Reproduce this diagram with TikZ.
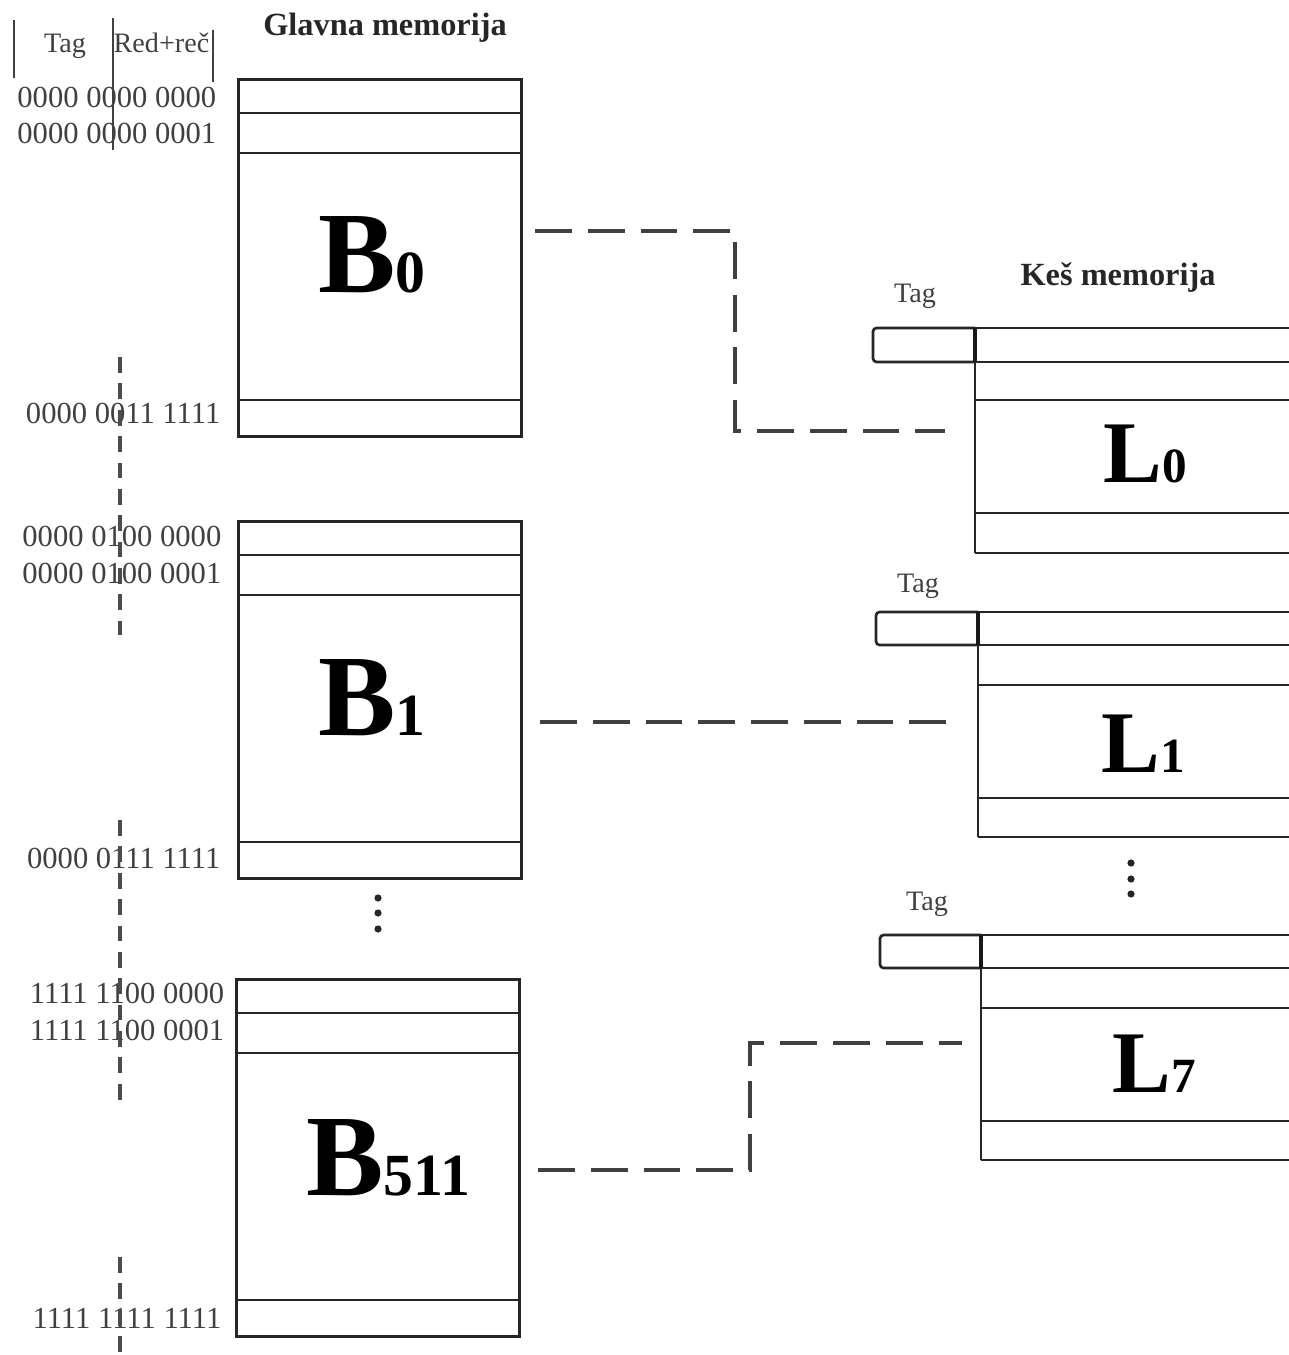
\documentclass[tikz,border=0pt]{standalone}
\usepackage{fontspec}
\setmainfont{Liberation Serif}
\begin{document}
\begin{tikzpicture}[x=0.01cm,y=-0.01cm,
  boxline/.style={draw=black!85, line width=0.75pt},
  divline/.style={draw=black!90, line width=1.1pt},
  conn/.style={draw=black!75, line width=0.9pt, dash pattern=on 10.5pt off 4.5pt},
  axisline/.style={draw=black!70, line width=0.9pt, dash pattern=on 4.5pt off 3pt},
  barline/.style={draw=black!75, line width=0.8pt},
  addr/.style={font=\fontsize{8.7}{8.7}\selectfont, text=black!75, anchor=base east, inner sep=0pt},
  titlefont/.style={font=\fontsize{9.2}{9.2}\selectfont\bfseries, text=black!85, inner sep=0pt},
  taglbl/.style={font=\fontsize{8}{8}\selectfont, text=black!75, inner sep=0pt},
  bigB/.style={anchor=base, inner sep=0pt, font=\fontsize{33}{33}\selectfont\bfseries},
  bigL/.style={anchor=base, inner sep=0pt, font=\fontsize{25}{25}\selectfont\bfseries},
  memblock/.style={boxline, anchor=north west, minimum width=2.83cm, minimum height=3.57cm, inner sep=0pt},
  tagbox/.style={boxline, rounded corners=1pt},
  dotmark/.style={fill=black!85}
]
\useasboundingbox (0,0) rectangle (1289,1355);

% ---------- header ----------
\node[titlefont, anchor=base] (glavna) at (385,36) {Glavna memorija};
\node[taglbl, anchor=base] (hTag) at (65,53) {Tag};
\node[taglbl, anchor=base west] (hRed) at (113,53) {Red+reč};
\draw[barline] (14,20) -- (14,78);
\draw[barline] (113,18) -- (113,150);
\draw[barline] (213,30) -- (213,82);

% ---------- main memory blocks ----------
\node[memblock] (B0) at (237,78) {};
\node[memblock] (B1) at (237,520) {};
\node[memblock] (B511) at (235,978) {};
\foreach \b in {B0,B1,B511}{
  \draw[boxline] (\b.north west) ++(0,35) -- ++(283,0);
  \draw[boxline] (\b.north west) ++(0,75) -- ++(283,0);
  \draw[boxline] (\b.north west) ++(0,322) -- ++(283,0);
}
\node[bigB] (B0t) at (372,293) {B{\fontsize{17}{17}\selectfont 0}};
\node[bigB] (B1t) at (372,735) {B{\fontsize{17}{17}\selectfont 1}};
\node[bigB] (B511t) at (388,1195) {B{\fontsize{17}{17}\selectfont 511}};

% ---------- addresses ----------
\node[addr] (a1) at (217,108) {0000 0000 0000};
\node[addr] (a2) at (217,144) {0000 0000 0001};
\node[addr] (a3) at (221,423) {0000 0011 1111};
\node[addr] (a4) at (222,546) {0000 0100 0000};
\node[addr] (a5) at (222,583) {0000 0100 0001};
\node[addr] (a6) at (221,868) {0000 0111 1111};
\node[addr] (a7) at (225,1003) {1111 1100 0000};
\node[addr] (a8) at (225,1040) {1111 1100 0001};
\node[addr] (a9) at (222,1328) {1111 1111 1111};

% ---------- vertical dashed split line ----------
\draw[axisline] (120,357) -- (120,635);
\draw[axisline] (120,820) -- (120,1100);
\draw[axisline] (120,1257) -- (120,1355);

% ---------- vertical dots ----------
\fill[dotmark] (378,898) circle (3.6);
\fill[dotmark] (378,913) circle (3.6);
\fill[dotmark] (378,929) circle (3.6);
\fill[dotmark] (1131,863) circle (3.6);
\fill[dotmark] (1131,879) circle (3.6);
\fill[dotmark] (1131,894) circle (3.6);

% ---------- cache ----------
\node[titlefont, anchor=base] (kes) at (1118,286) {Keš memorija};

% L0
\node[taglbl, anchor=base] (t0) at (915,303) {Tag};
\draw[tagbox] (975,328) -- (873,328) -- (873,362) -- (975,362);
\draw[boxline] (975,328) -- (1289,328);
\draw[boxline] (975,362) -- (1289,362);
\draw[boxline] (975,400) -- (1289,400);
\draw[boxline] (975,513) -- (1289,513);
\draw[boxline] (975,553) -- (1289,553);
\draw[boxline] (975,328) -- (975,553);
\draw[divline] (975,328) -- (975,362);
\node[bigL] (L0t) at (1145,482) {L{\fontsize{14}{14}\selectfont 0}};

% L1
\node[taglbl, anchor=base] (t1) at (918,592) {Tag};
\draw[tagbox] (978,612) -- (876,612) -- (876,645) -- (978,645);
\draw[boxline] (978,612) -- (1289,612);
\draw[boxline] (978,645) -- (1289,645);
\draw[boxline] (978,685) -- (1289,685);
\draw[boxline] (978,798) -- (1289,798);
\draw[boxline] (978,837) -- (1289,837);
\draw[boxline] (978,612) -- (978,837);
\draw[divline] (978,612) -- (978,645);
\node[bigL] (L1t) at (1143,772) {L{\fontsize{14}{14}\selectfont 1}};

% L7
\node[taglbl, anchor=base] (t7) at (927,910) {Tag};
\draw[tagbox] (981,935) -- (880,935) -- (880,968) -- (981,968);
\draw[boxline] (981,935) -- (1289,935);
\draw[boxline] (981,968) -- (1289,968);
\draw[boxline] (981,1008) -- (1289,1008);
\draw[boxline] (981,1121) -- (1289,1121);
\draw[boxline] (981,1160) -- (1289,1160);
\draw[boxline] (981,935) -- (981,1160);
\draw[divline] (981,935) -- (981,968);
\node[bigL] (L7t) at (1154,1092) {L{\fontsize{14}{14}\selectfont 7}};

% ---------- connectors ----------
\coordinate (B0out) at (535,231);
\coordinate (turn0) at (735,431);
\coordinate (L0in) at (945,431);
\draw[conn] (B0out) -- (B0out -| turn0) -- (turn0) -- (L0in);

\coordinate (B1out) at (540,722);
\coordinate (L1in) at (952,722);
\draw[conn] (B1out) -- (L1in);

\coordinate (B511out) at (538,1170);
\coordinate (turn7) at (750,1043);
\coordinate (L7in) at (962,1043);
\draw[conn] (B511out) -- (B511out -| turn7) -- (turn7) -- (L7in);
\end{tikzpicture}
\end{document}
